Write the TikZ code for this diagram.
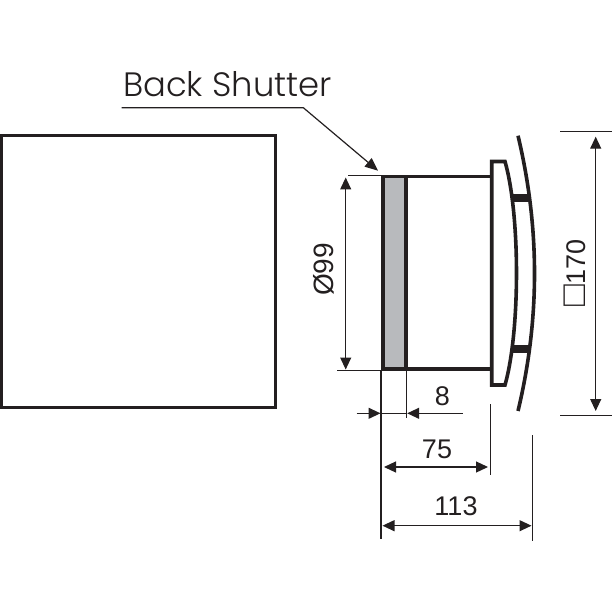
\documentclass[tikz,border=0pt]{standalone}
\usepackage{fontspec}
\setmainfont{Liberation Sans}
\newfontfamily\calloutfont[UprightFont=* Light]{Poppins}
\usetikzlibrary{arrows.meta,positioning}
\definecolor{inkdark}{RGB}{35,31,32}
\definecolor{shuttergrey}{RGB}{184,186,189}
\begin{document}
\begin{tikzpicture}[
        x=1pt, y=-1pt,
        outline/.style={draw=inkdark, line width=3.6pt},
        thinline/.style={draw=inkdark, line width=1.2pt},
        dimline/.style={thinline, {Triangle[length=12pt,width=11pt]}-{Triangle[length=12pt,width=11pt]}},
        dimtext/.style={text=inkdark, font=\fontsize{27}{27}\selectfont, inner sep=0pt}
    ]
        \useasboundingbox (0,0) rectangle (612,612);

        % front view
        \node[draw=inkdark, line width=2.1pt, minimum width=274pt, minimum height=272pt, inner sep=0pt, outer sep=0pt, anchor=north west] (plate) at (1.5,135.5) {};

        % side view
        \node[outline, fill=shuttergrey, minimum width=23pt, minimum height=192.5pt, inner sep=0pt, outer sep=0pt, anchor=north west] (shutter) at (382.7,176.7) {};
        \coordinate (bodyT) at (491.7,176.7);
        \coordinate (bodyB) at (491.7,369.2);
        \draw[outline] (shutter.north east) -- (bodyT);
        \draw[outline] (shutter.south east) -- (bodyB);
        \draw[outline, line join=miter] (491.7,161.5) -- (491.7,385) -- (505,385) .. controls (520.3,331) and (520.3,215) .. (505,161.5) -- cycle;
        \draw[draw=inkdark, line width=3.6pt] (518,135.7) .. controls (540,228) and (540,319) .. (518,411);
        \fill[inkdark] (511.5,194) rectangle (531,201.7);
        \fill[inkdark] (511.5,345) rectangle (531,352.7);

        % back shutter callout
        \node[text=inkdark, font=\fontsize{33.8}{34}\calloutfont, inner sep=0pt, anchor=base west] (callout) at (123,96.7) {Back Shutter};
        \coordinate (leadA) at (121.7,107.7);
        \coordinate (leadB) at (303.3,107.7);
        \coordinate (leadC) at (378,170.7);
        \draw[thinline, -{Triangle[length=13pt,width=11pt]}] (leadA) -- (leadB) -- (leadC);

        % extension lines
        \draw[thinline] (348,175.5) -- (382,175.5);
        \draw[thinline] (337,370.5) -- (382,370.5);
        \draw[thinline] (560,131.7) -- (612,131.7);
        \draw[thinline] (560,415.7) -- (612,415.7);
        \draw[thinline] (381,370) -- (381,539);
        \draw[thinline] (406.7,370) -- (406.7,418);
        \draw[thinline] (490.3,404) -- (490.3,475);
        \draw[thinline] (532.7,435) -- (532.7,540.7);

        % dimensions
        \coordinate (diaT) at (345.7,177.5);
        \coordinate (diaB) at (345.7,369.5);
        \draw[dimline] (diaT) -- (diaB);
        \node[dimtext, font=\fontsize{28}{28}\selectfont, rotate=90] (dia) at (324,269.5) {Ø99};

        \coordinate (sqT) at (595.7,136.7);
        \coordinate (sqB) at (595.7,411);
        \draw[dimline] (sqT) -- (sqB);
        \node[dimtext, rotate=90] (sq) at (575,273) {{\fontsize{36}{36}\selectfont □}170};

        \coordinate (shutA) at (356.7,413.3);
        \coordinate (shutB) at (380.5,413.3);
        \coordinate (shutC) at (407.2,413.3);
        \coordinate (shutD) at (462.7,413.3);
        \draw[thinline, -{Triangle[length=12pt,width=11pt]}] (shutA) -- (shutB);
        \draw[thinline] (shutB) -- (shutC);
        \draw[thinline, -{Triangle[length=12pt,width=11pt]}] (shutD) -- (shutC);
        \node[dimtext] (eight) at (442.5,396) {8};

        \coordinate (depA) at (384,467);
        \coordinate (depB) at (488,467);
        \draw[dimline] (depA) -- (depB);
        \node[dimtext] (depth) at (437,449) {75};

        \coordinate (allA) at (382.5,525.7);
        \coordinate (allB) at (531.5,525.7);
        \draw[dimline] (allA) -- (allB);
        \node[dimtext] (overall) at (456,506.5) {113};
    \end{tikzpicture}
\end{document}
